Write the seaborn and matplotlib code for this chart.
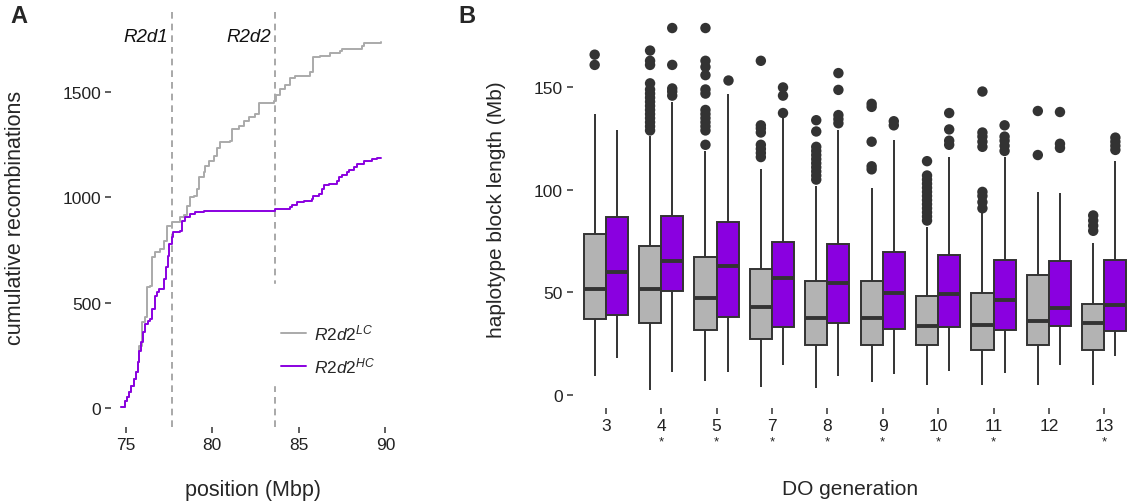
import numpy as np
import pandas as pd
import matplotlib
matplotlib.use("Agg")
import matplotlib.pyplot as plt
import seaborn as sns

sns.set_style("white")
plt.rcParams['font.family'] = ['Liberation Sans', 'DejaVu Sans']
plt.rcParams['mathtext.fontset'] = 'custom'
plt.rcParams['mathtext.it'] = 'Liberation Sans:italic'
plt.rcParams['mathtext.rm'] = 'Liberation Sans'

# ---- panel A data: cumulative recombinations along the chromosome
lc_pos = [74.75, 74.97, 75.07, 75.2, 75.32, 75.45, 75.59, 75.7, 75.74, 75.93,
          76.13, 76.22, 76.42, 76.51, 76.7, 76.99, 77.19, 77.38, 77.67, 78.15,
          78.34, 78.54, 78.73, 78.92, 79.12, 79.21, 79.5, 79.6, 79.79, 80.08,
          80.27, 80.46, 81.04, 81.14, 81.52, 81.81, 82.1, 82.49, 82.68, 83.54,
          83.7, 83.93, 84.22, 84.51, 84.8, 85.66, 85.82, 86.24, 86.82, 87.4,
          87.5, 88.65, 88.75, 89.75]
lc_cum = [8, 37, 53, 77, 108, 140, 171, 219, 297, 408,
          432, 574, 581, 716, 740, 755, 795, 866, 882, 905,
          916, 957, 1000, 1008, 1039, 1095, 1118, 1150, 1173, 1197,
          1232, 1260, 1268, 1323, 1339, 1363, 1379, 1394, 1445, 1457,
          1484, 1513, 1532, 1563, 1576, 1592, 1663, 1670, 1683, 1694,
          1702, 1715, 1731, 1737]
hc_pos = [74.74, 74.97, 75.07, 75.2, 75.32, 75.45, 75.59, 75.7, 75.78, 75.9,
          75.99, 76.13, 76.26, 76.38, 76.51, 76.67, 76.8, 76.95, 77.19, 77.24,
          77.32, 77.43, 77.51, 77.67, 77.76, 78.15, 78.25, 78.44, 78.73, 79.02,
          79.55, 83.6, 84.51, 84.61, 84.9, 85.28, 85.76, 85.82, 86.15, 86.34,
          86.43, 86.72, 87.21, 87.3, 87.5, 87.79, 87.88, 88.17, 88.36, 88.75,
          89.23, 89.52, 89.75]
hc_cum = [8, 37, 53, 77, 108, 140, 171, 219, 274, 313,
          361, 400, 416, 424, 471, 534, 553, 566, 574, 613,
          668, 723, 779, 810, 834, 842, 889, 905, 921, 929,
          937, 945, 955, 963, 976, 984, 992, 1008, 1016, 1039,
          1058, 1063, 1079, 1095, 1106, 1118, 1131, 1142, 1158, 1173,
          1181, 1186, 1186]
loci = {'R2d1': 77.7, 'R2d2': 83.62}

# ---- panel B data: five-number summaries [low whisker, q1, median, q3, high whisker]
gens = ['3', '4', '5', '7', '8', '9', '10', '11', '12', '13']
signif = ['4', '5', '7', '8', '9', '10', '11', '13']
lc_stats = [[9, 37, 51.5, 78.4, 137], [2.4, 35, 51.6, 72.5, 126.5],
            [6.8, 31.7, 47.2, 67.1, 119], [3.6, 27.2, 42.7, 61.4, 110],
            [3.3, 24.3, 37.5, 55.4, 102], [6, 24.3, 37.5, 55.4, 101],
            [4.7, 24.3, 33.4, 48, 82], [4.7, 21.8, 34.2, 49.5, 89],
            [4.7, 24.3, 35.8, 58.6, 99], [4.7, 21.8, 35, 44.3, 74]]
hc_stats = [[17.8, 38.9, 59.8, 86.9, 129], [11.2, 50.8, 65.4, 87.4, 143],
            [11.2, 37.8, 62.7, 84.2, 147], [14.5, 32.9, 56.8, 74.4, 135.5],
            [9.3, 34.8, 54.4, 73.6, 129], [10.1, 32.1, 49.7, 69.8, 124.4],
            [11.7, 33.2, 49.2, 68.4, 116], [10.6, 31.7, 46.2, 65.9, 116],
            [14.5, 33.4, 42.2, 65.4, 98.3], [18.7, 31.3, 43.8, 65.8, 114.3]]
lc_out = [[161, 166],
          [129, 131, 133, 135, 137, 139, 141, 143, 145, 147, 149, 152, 161, 163, 168],
          [122, 129, 131, 133, 135, 137, 139, 147, 149, 156, 160, 163, 179],
          [116, 118, 120, 122, 128, 130, 131.5, 163],
          [105, 107, 109, 111, 113, 115, 117, 119, 121, 128.5, 134],
          [110, 111.5, 123.5, 140.5, 142],
          [85, 87, 89, 91, 93, 95, 97, 99, 101, 103, 105, 107, 114],
          [91, 94, 97, 99, 121, 123.5, 126, 128, 148],
          [117, 138.5],
          [80, 82.5, 85, 87.5]]
hc_out = [[],
          [146, 148, 149.5, 161, 179],
          [153.8],
          [137.5, 146, 150],
          [132.5, 134.5, 136.5, 148.8, 157],
          [131.5, 133.5],
          [122, 124, 129.5, 137.5],
          [119, 121.5, 124, 126, 131.5],
          [120.5, 122.5, 138],
          [119.5, 121.5, 123.5, 125.5]]

GREY, PURPLE, DARK = '#b3b3b3', '#8a00e0', '#333333'
groups = ['LC', 'HC']

fig = plt.figure(figsize=(11.27, 5.02), dpi=100)
axA = fig.add_axes([0.0985, 0.1474, 0.2511, 0.8367])
axB = fig.add_axes([0.508, 0.1853, 0.492, 0.7948])

# ---- panel A
dfA = pd.concat([pd.DataFrame({'pos': lc_pos, 'cum': lc_cum, 'grp': 'LC'}),
                 pd.DataFrame({'pos': hc_pos, 'cum': hc_cum, 'grp': 'HC'})])
sns.lineplot(data=dfA, x='pos', y='cum', hue='grp', hue_order=groups,
             palette=['#aaaaaa', PURPLE], drawstyle='steps-post',
             linewidth=1.4, legend=False, ax=axA, estimator=None)
for name, x in loci.items():
    axA.axvline(x, color='#999999', lw=1.2, ls=(0, (4, 3)), zorder=0)
    axA.text(x - 0.25, 1762, name, ha='right', va='center', style='italic',
             fontsize=13.5, color='#111111')
axA.set_xlim(74.15, 90.5)
axA.set_ylim(-88, 1901)
axA.set_xticks([75, 80, 85, 90])
axA.set_yticks([0, 500, 1000, 1500])
axA.set_xlabel('position (Mbp)', fontsize=15.5)
axA.set_ylabel('cumulative recombinations', fontsize=15.5)
axA.xaxis.set_label_coords(0.5, -0.124)
axA.yaxis.set_label_coords(-0.30, 0.5)
# empty title mimics the blank legend title space of the original
leg = axA.legend(axA.lines[:2], [r'$\mathit{R2d2}^{\mathit{LC}}$', r'$\mathit{R2d2}^{\mathit{HC}}$'],
                 loc='center left', bbox_to_anchor=(0.565, 0.22), frameon=True,
                 title=' ', title_fontsize=12,
                 fontsize=12.5, handlelength=1.45, handletextpad=0.45,
                 labelspacing=0.75, borderpad=0.6, borderaxespad=0)
leg.get_frame().set_edgecolor('white')
leg.get_frame().set_facecolor('white')
leg.get_frame().set_alpha(1)
leg.get_frame().set_boxstyle('square', pad=0)

# ---- panel B
rows = []
for g, s1, s2 in zip(gens, lc_stats, hc_stats):
    rows += [(g, 'LC', v) for v in s1] + [(g, 'HC', v) for v in s2]
dfB = pd.DataFrame(rows, columns=['gen', 'grp', 'len'])
orow = []
for g, o1, o2 in zip(gens, lc_out, hc_out):
    orow += [(g, 'LC', v) for v in o1] + [(g, 'HC', v) for v in o2]
dfO = pd.DataFrame(orow, columns=['gen', 'grp', 'len'])

sns.boxplot(data=dfB, x='gen', y='len', hue='grp', order=gens, hue_order=groups,
            palette=[GREY, PURPLE], saturation=1, width=0.8, gap=0,
            whis=(0, 100), showfliers=False, showcaps=False,
            linecolor=DARK, linewidth=1.4,
            medianprops={'linewidth': 2.8, 'color': DARK},
            legend=False, ax=axB)
sns.stripplot(data=dfO, x='gen', y='len', hue='grp', order=gens, hue_order=groups,
              palette=[DARK, DARK], dodge=True, jitter=False, size=7.5,
              linewidth=0, legend=False, ax=axB, zorder=5)
axB.set_xlim(-0.6, 9.41)
axB.set_ylim(-6.5, 188.3)
axB.set_yticks([0, 50, 100, 150])
axB.set_xlabel('DO generation', fontsize=15)
axB.set_ylabel('haplotype block length (Mb)', fontsize=15)
axB.xaxis.set_label_coords(0.5, -0.178)
axB.yaxis.set_label_coords(-0.12, 0.5)
for g in signif:
    axB.annotate('*', xy=(gens.index(g), 0), xycoords=axB.get_xaxis_transform(),
                 xytext=(0, -24), textcoords='offset points', ha='center',
                 va='center', fontsize=9.5, color='#222222')

for ax in (axA, axB):
    sns.despine(ax=ax, left=True, bottom=True)
    ax.tick_params(axis='both', length=4, width=1.1, color=DARK, labelsize=12.5,
                   labelcolor='#222222', pad=3, left=True, bottom=True)
    ax.grid(False)

fig.text(0.009, 0.955, 'A', fontsize=17, fontweight='bold')
fig.text(0.407, 0.955, 'B', fontsize=17, fontweight='bold')

fig.savefig('out.png', dpi=100)
